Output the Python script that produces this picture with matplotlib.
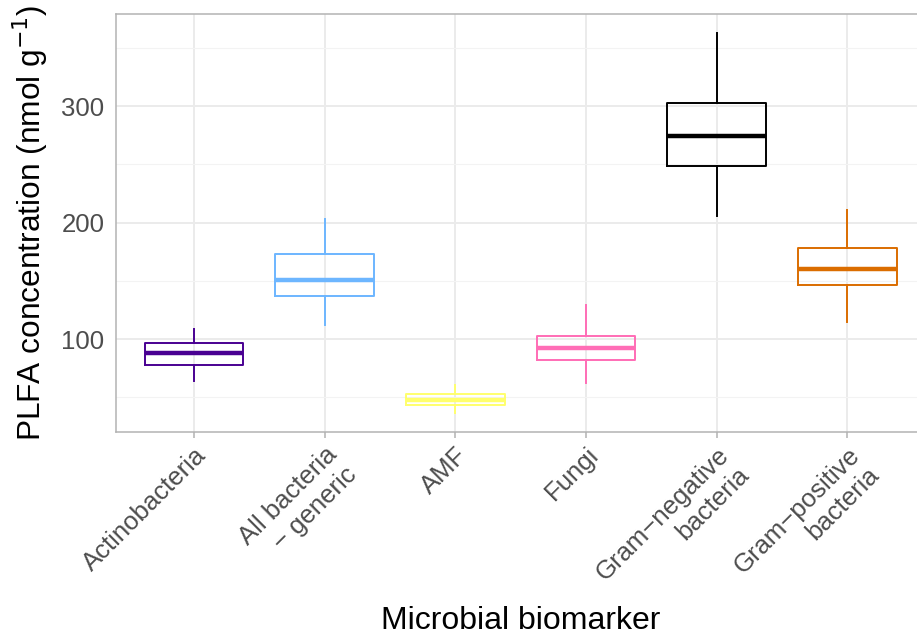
import matplotlib.pyplot as plt
from matplotlib.ticker import MultipleLocator

plt.rcParams['font.family'] = ['Liberation Sans', 'DejaVu Sans']

# box stats per biomarker (nmol g-1)
biomarkers = ['Actinobacteria', 'All bacteria\n\u2212 generic', 'AMF', 'Fungi',
              'Gram\u2212negative\nbacteria', 'Gram\u2212positive\nbacteria']
whisker_low = [64, 112, 37, 62, 206, 115]
q1 = [78, 137, 43.5, 82, 249, 146.5]
median = [88, 151, 48, 92.5, 274.5, 160]
q3 = [96.5, 173, 52.5, 103, 303, 178]
whisker_high = [109, 203, 61, 129, 363, 211]
colours = ['#490092', '#6db6ff', '#ffff6d', '#ff6db6', '#000000', '#db6d00']

fig = plt.figure(figsize=(9.17, 6.36), dpi=100)
# the original panel runs past the right edge of the image
ax = fig.add_axes([0.126, 0.3212, 0.8836, 0.6573])

stats = []
for i in range(len(biomarkers)):
    stats.append({'med': median[i], 'q1': q1[i], 'q3': q3[i],
                  'whislo': whisker_low[i], 'whishi': whisker_high[i], 'fliers': []})

positions = list(range(1, len(biomarkers) + 1))
parts = ax.bxp(stats, positions=positions, widths=0.755, showcaps=False,
               showfliers=False, patch_artist=False, zorder=3)
for i, c in enumerate(colours):
    parts['boxes'][i].set(color=c, linewidth=1.4)
    parts['medians'][i].set(color=c, linewidth=3.2, solid_capstyle='butt')
    for w in parts['whiskers'][2 * i:2 * i + 2]:
        w.set(color=c, linewidth=1.4)

ax.set_xlim(0.4, 6.6)
ax.set_ylim(20.5, 379.5)
ax.yaxis.set_major_locator(MultipleLocator(100))
ax.yaxis.set_minor_locator(MultipleLocator(50))
ax.grid(True, which='major', color='#EBEBEB', linewidth=1.4, zorder=0)
ax.grid(True, which='minor', axis='y', color='#F3F3F3', linewidth=0.8, zorder=0)
ax.set_axisbelow(True)

for s in ax.spines.values():
    s.set_color('#B3B3B3')
    s.set_linewidth(1.1)

ax.set_xticks(positions)
ax.set_xticklabels(biomarkers, rotation=45, ha='right', va='top',
                   rotation_mode='anchor', fontsize=18.5, color='#4D4D4D',
                   multialignment='right')
ax.tick_params(axis='x', length=4, width=1.1, color='#B3B3B3', pad=4)
ax.tick_params(axis='y', which='both', length=0, labelsize=18.5,
               labelcolor='#4D4D4D', pad=8)

ax.set_ylabel('PLFA concentration (nmol g$^{\u22121}$)', fontsize=22.8)
ax.yaxis.set_label_coords(-0.081, 0.5)
ax.set_xlabel('Microbial biomarker', fontsize=23)
ax.xaxis.set_label_coords(0.5, -0.416)

fig.savefig('out.png', dpi=100)
